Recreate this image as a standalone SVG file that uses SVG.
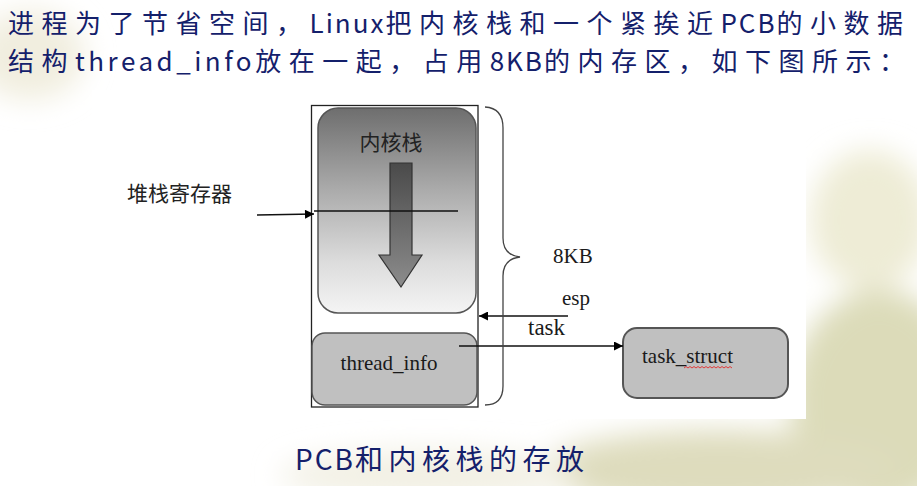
<svg xmlns="http://www.w3.org/2000/svg" width="917" height="486" viewBox="0 0 917 486">
<style>
.title{font-family:"Noto Sans CJK SC","Liberation Sans",sans-serif;font-size:26px;fill:#14206b}
.cap{font-family:"Noto Sans CJK SC","Liberation Sans",sans-serif;font-size:28px;fill:#14206b}
.c{letter-spacing:7.5px}
.l{letter-spacing:2px}
.l3{letter-spacing:3.5px}
.cc{letter-spacing:5.5px}
.lbl{font-family:"Liberation Serif",serif;font-size:21px;fill:#1a1a1a}
.cjk{font-family:"Noto Sans CJK SC",sans-serif;font-size:21px;fill:#222}
.ln{stroke:#111;stroke-width:1.3;fill:none}
</style>
<defs>
<filter id="blur" x="-50%" y="-50%" width="200%" height="200%"><feGaussianBlur stdDeviation="14"/></filter>
<linearGradient id="kg" x1="0" y1="0" x2="0" y2="1">
<stop offset="0" stop-color="#6e6e6e"/><stop offset="0.4" stop-color="#ababab"/><stop offset="0.75" stop-color="#dcdcdc"/><stop offset="1" stop-color="#f4f4f4"/>
</linearGradient>
<linearGradient id="ag" x1="0" y1="0" x2="0" y2="1">
<stop offset="0" stop-color="#4a4a4a"/><stop offset="1" stop-color="#8c8c8c"/>
</linearGradient>
<marker id="ah" viewBox="0 0 10 10" refX="10" refY="5" markerWidth="10" markerHeight="9" markerUnits="userSpaceOnUse" orient="auto">
<path d="M0,0 L10,5 L0,10 z" fill="#000"/>
</marker>
</defs>
<rect width="917" height="486" fill="#fff"/>
<g id="background" filter="url(#blur)">
<ellipse cx="30" cy="55" rx="55" ry="45" fill="#f1eedf"/>
<ellipse cx="870" cy="220" rx="60" ry="70" fill="#eeecd6"/>
<ellipse cx="880" cy="400" rx="90" ry="110" fill="#dcdbb9"/>
<ellipse cx="720" cy="470" rx="180" ry="40" fill="#dedcbd"/>
<ellipse cx="430" cy="475" rx="150" ry="25" fill="#f2f0e4"/>
</g>
<rect x="92" y="90" width="714" height="329" fill="#fff"/>
<g id="title">
<text class="title" x="8" y="33"><tspan class="c">进程为了节省空间，</tspan><tspan class="l">Linux</tspan><tspan class="c">把内核栈和一个紧挨近</tspan><tspan class="l">PCB</tspan><tspan class="c">的小数据</tspan></text>
<text class="title" x="8" y="71"><tspan class="c">结构</tspan><tspan class="l3">thread_info</tspan><tspan class="c">放在一起，占用</tspan><tspan class="l">8KB</tspan><tspan class="c">的内存区，如下图所示：</tspan></text>
</g>
<g id="outer-block">
<rect x="311.5" y="105.5" width="166.5" height="301.5" fill="none" stroke="#222" stroke-width="1.3"/>
</g>
<g id="kernel-stack">
<rect x="318" y="108" width="158" height="205" rx="20" fill="url(#kg)" stroke="#555" stroke-width="1.5"/>
<text class="cjk" x="391" y="150" text-anchor="middle">内核栈</text>
<path d="M390,163 H412 V255 H422 L401,287 L379,255 H390 Z" fill="url(#ag)" stroke="#333" stroke-width="1.2"/>
</g>
<g id="thread-info">
<rect x="312" y="333" width="165" height="72" rx="13" fill="#c0c0c0" stroke="#555" stroke-width="1.5"/>
<text class="lbl" x="389" y="370" text-anchor="middle">thread_info</text>
</g>
<g id="task-struct">
<rect x="623" y="328" width="165" height="70" rx="14" fill="#c0c0c0" stroke="#555" stroke-width="2"/>
<text class="lbl" x="642" y="363">task_struct</text>
<path d="M684,368 l2,-1.5 l2,1.5 l2,-1.5 l2,1.5 l2,-1.5 l2,1.5 l2,-1.5 l2,1.5 l2,-1.5 l2,1.5 l2,-1.5 l2,1.5 l2,-1.5 l2,1.5 l2,-1.5 l2,1.5 l2,-1.5 l2,1.5 l2,-1.5 l2,1.5 l2,-1.5 l2,1.5 l2,-1.5 l2,1.5" fill="none" stroke="#e03a3a" stroke-width="1"/>
</g>
<g id="labels">
<text class="cjk" x="127" y="201">堆栈寄存器</text>
<text class="lbl" x="553" y="263">8KB</text>
<text class="lbl" x="562" y="305">esp</text>
<text class="lbl" x="528" y="335" style="font-size:23px">task</text>
</g>
<g id="connectors">
<line class="ln" x1="257" y1="215" x2="314" y2="214" marker-end="url(#ah)"/>
<line class="ln" x1="314" y1="211" x2="458" y2="211"/>
<line class="ln" x1="568" y1="316" x2="479" y2="316" marker-end="url(#ah)"/>
<line class="ln" x1="459" y1="346" x2="623" y2="346" marker-end="url(#ah)"/>
<path d="M485,107 Q503,108 503,128 V238 Q503,255 520,257 Q503,259 503,276 V386 Q503,405 485,405" fill="none" stroke="#444" stroke-width="1.3"/>
</g>
<g id="caption">
<text class="cap" x="295" y="470"><tspan class="l">PCB</tspan><tspan class="cc">和内核栈的存放</tspan></text>
</g>
</svg>
